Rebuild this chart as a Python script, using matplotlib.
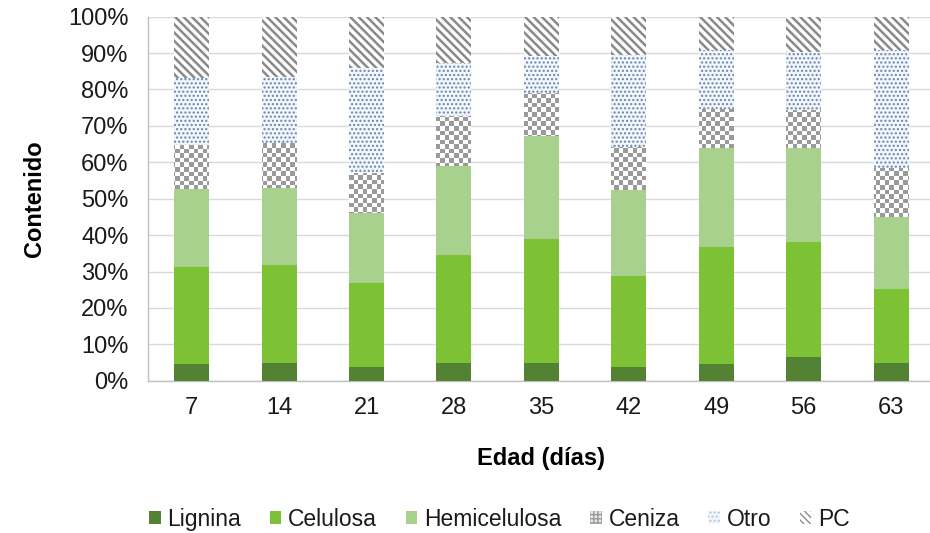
import matplotlib
matplotlib.use('Agg')
import matplotlib.pyplot as plt
from matplotlib.colors import ListedColormap
from matplotlib.patches import Patch
import numpy as np

# Contenido por componente (% del total) segun la edad de corte
edad = ['7', '14', '21', '28', '35', '42', '49', '56', '63']
lignina = [4.6, 4.9, 3.7, 4.9, 4.9, 3.7, 4.6, 6.4, 5.0]
celulosa = [26.7, 26.9, 23.2, 29.6, 33.9, 25.1, 32.2, 31.8, 20.1]
hemicelulosa = [21.5, 21.2, 19.1, 24.6, 28.4, 23.6, 27.2, 25.8, 20.0]
ceniza = [11.9, 12.4, 11.1, 13.6, 11.7, 11.7, 10.6, 10.4, 13.2]
otro = [18.4, 18.1, 28.7, 14.7, 10.3, 25.4, 16.2, 16.0, 32.5]
pc = [16.9, 16.5, 14.2, 12.6, 10.8, 10.5, 9.2, 9.6, 9.2]

plt.rcParams['font.family'] = ['Liberation Sans', 'DejaVu Sans']


def hatch_lw(artists, lw):
    # hatch line width per artist when available
    for a in artists:
        if hasattr(a, 'set_hatch_linewidth'):
            a.set_hatch_linewidth(lw)


fig = plt.figure(figsize=(9.3, 5.33), dpi=100)
ax = fig.add_axes([0.1591, 0.2857, 0.846, 0.683])

x = np.arange(len(edad))
width = 0.4
bottom = np.zeros(len(edad))

ax.bar(x, lignina, width, bottom=bottom, color='#548235', zorder=3)
bottom += lignina
ax.bar(x, celulosa, width, bottom=bottom, color='#7dc234', zorder=3)
bottom += celulosa
ax.bar(x, hemicelulosa, width, bottom=bottom, color='#a9d18e', zorder=3)
bottom += hemicelulosa
ceniza_bars = ax.bar(x, ceniza, width, bottom=bottom, color='white', zorder=3)
bottom += ceniza

otro_bars = ax.bar(x, otro, width, bottom=bottom, color='#f1f6fc', edgecolor='#6a84a8',
                   hatch='....', linewidth=0, zorder=3)
hatch_lw(otro_bars, 1.0)
bottom += otro
pc_bars = ax.bar(x, pc, width, bottom=bottom, color='white', edgecolor='#8a8a8a',
                 hatch='\\\\\\\\', linewidth=0, zorder=3)
hatch_lw(pc_bars, 1.8)

ax.set_xlim(-0.5, len(edad) - 0.5)
ax.set_ylim(0, 100)

# checkerboard fill for Ceniza, clipped to each bar
checker = np.indices((80, 172)).sum(axis=0) % 2
for bar in ceniza_bars:
    im = ax.imshow(checker, cmap=ListedColormap(['white', '#9a9a9a']),
                   extent=(-0.5, len(edad) - 0.5, 0, 100), aspect='auto',
                   interpolation='nearest', zorder=3.5)
    im.set_clip_path(bar)
ax.set_xlim(-0.5, len(edad) - 0.5)
ax.set_ylim(0, 100)

ax.set_yticks(np.arange(0, 101, 10))
ax.set_yticklabels([f'{v}%' for v in range(0, 101, 10)])
ax.set_xticks(x)
ax.set_xticklabels(edad)
ax.tick_params(axis='both', length=0, labelsize=17, colors='#1a1a1a')
ax.tick_params(axis='y', pad=14)
ax.tick_params(axis='x', pad=12)

ax.set_xlabel('Edad (días)', fontsize=17, fontweight='bold', labelpad=20)
ax.set_ylabel('Contenido', fontsize=17, fontweight='bold', labelpad=16)

ax.grid(which='major', axis='y', color='#d9d9d9', linewidth=1, zorder=0)
ax.set_axisbelow(True)
for side in ['top', 'right']:
    ax.spines[side].set_visible(False)
for side in ['left', 'bottom']:
    ax.spines[side].set_color('#bfbfbf')
    ax.spines[side].set_linewidth(1)

handles = [
    Patch(facecolor='#548235', label='Lignina'),
    Patch(facecolor='#7dc234', label='Celulosa'),
    Patch(facecolor='#a9d18e', label='Hemicelulosa'),
    Patch(facecolor='#e6e6e6', edgecolor='#9a9a9a', hatch='++++', linewidth=0, label='Ceniza'),
    Patch(facecolor='#f3f7fc', edgecolor='#b5c4d8', hatch='....', linewidth=0, label='Otro'),
    Patch(facecolor='white', edgecolor='#8c8c8c', hatch='\\\\\\\\\\', linewidth=0, label='PC'),
]
fig.legend(handles=handles, loc='center', bbox_to_anchor=(0.537, 0.026), ncol=6,
           frameon=False, fontsize=16.5, handlelength=0.5, handleheight=0.5,
           handletextpad=0.3, columnspacing=1.25, labelcolor='#1a1a1a')

plt.savefig('out.png', dpi=100)
